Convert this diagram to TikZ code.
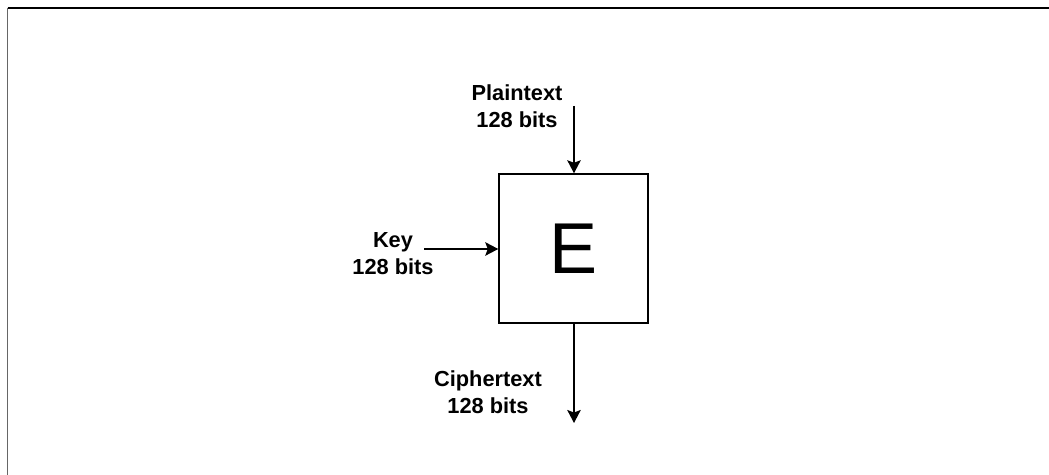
\documentclass[tikz,border=0pt]{standalone}
\usepackage{fontspec}
\setmainfont{Liberation Sans}
\usetikzlibrary{arrows.meta}
\tikzset{
  lbl/.style={align=center,inner sep=0pt,font=\fontsize{12.4}{15.4}\selectfont\bfseries},
  arr/.style={line width=0.9pt,-{Stealth[length=0.26cm,width=0.27cm,inset=0.05cm]}}
}
\begin{document}
\begin{tikzpicture}[x=0.02cm,y=-0.02cm]
\useasboundingbox (0,0) rectangle (1049,475);
\draw[line width=0.6pt] (7.5,8)--(1049,8);
\draw[line width=0.8pt,black!60] (7.5,8)--(7.5,475);

\node[draw,line width=0.85pt,minimum size=2.98cm,inner sep=0pt,font=\fontsize{41}{41}\selectfont] (enc) at (573.5,248.5) {E};

\node[lbl] (pt) at (517,106.5) {Plaintext\\128 bits};
\node[lbl] (key) at (393,254) {Key\\128 bits};
\node[lbl] (ct) at (488,392.5) {Ciphertext\\128 bits};

\coordinate (ptin) at (574,106);
\coordinate (keyin) at (424,249);
\coordinate (ctout) at (574,423);

\draw[arr] (ptin)--(enc.north -| ptin);
\draw[arr] (keyin)--(enc.west |- keyin);
\draw[arr] (enc.south -| ctout)--(ctout);
\end{tikzpicture}
\end{document}
